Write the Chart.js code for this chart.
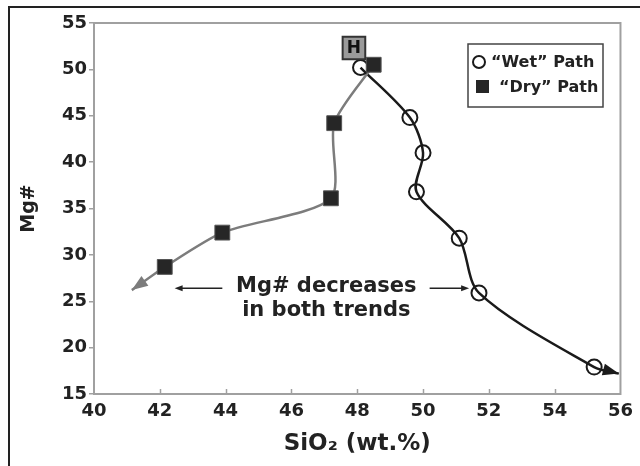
<!DOCTYPE html>
<html>
<head>
<meta charset="utf-8">
<script src="https://cdn.jsdelivr.net/npm/chart.js@4.4.1/dist/chart.umd.min.js"></script>
<style>
html, body { margin: 0; padding: 0; background: #fff; }
canvas { display: block; }
</style>
</head>
<body>
<canvas id="c" width="640" height="466"></canvas>
<script>
// "Wet" path - open circles
const wetSiO2 = [48.1, 49.6, 50.0, 49.8, 51.1, 51.7, 55.2];
const wetMg = [50.2, 44.8, 41.0, 36.8, 31.8, 25.9, 17.9];
const wetEnd = [55.95, 17.2];

// "Dry" path - filled squares
const drySiO2 = [48.5, 47.3, 47.2, 43.9, 42.15];
const dryMg = [50.5, 44.2, 36.1, 32.4, 28.7];
const dryEnd = [41.15, 26.2];

// starting composition H
const hPoint = [47.9, 52.3];

// axis ticks
const xTicks = [40, 42, 44, 46, 48, 50, 52, 54, 56];
const yTicks = [15, 20, 25, 30, 35, 40, 45, 50, 55];

const FONT = "'DejaVu Sans', 'Liberation Sans', Arial, sans-serif";

const toXY = (xs, ys) => xs.map((x, i) => ({ x: x, y: ys[i] }));
const wetLine = toXY(wetSiO2, wetMg).concat([{ x: wetEnd[0], y: wetEnd[1] }]);
const dryLine = toXY(drySiO2, dryMg).concat([{ x: dryEnd[0], y: dryEnd[1] }]);

function arrowHead(ctx, x, y, ang, len, wid, color) {
	ctx.save();
	ctx.translate(x, y);
	ctx.rotate(ang);
	ctx.beginPath();
	ctx.moveTo(0, 0);
	ctx.lineTo(-len, wid / 2);
	ctx.lineTo(-len, -wid / 2);
	ctx.closePath();
	ctx.fillStyle = color;
	ctx.fill();
	ctx.restore();
}

// frame, plot box, inner x ticks
const framePlugin = {
	id: 'frame',
	beforeDatasetsDraw(chart) {
		const ctx = chart.ctx;
		const a = chart.chartArea;
		ctx.save();
		ctx.strokeStyle = '#a0a0a0';
		ctx.lineWidth = 2;
		ctx.strokeRect(a.left, a.top, a.right - a.left, a.bottom - a.top);
		const xs = chart.scales.x;
		ctx.lineWidth = 1.5;
		xTicks.slice(1, -1).forEach(v => {
			const px = Math.round(xs.getPixelForValue(v)) + 0.5;
			ctx.beginPath();
			ctx.moveTo(px, a.bottom);
			ctx.lineTo(px, a.bottom - 5);
			ctx.stroke();
		});
		ctx.restore();
	},
	afterDraw(chart) {
		const ctx = chart.ctx;
		ctx.save();
		ctx.strokeStyle = '#222';
		ctx.lineWidth = 2;
		ctx.beginPath();
		ctx.moveTo(640, 7);
		ctx.lineTo(9, 7);
		ctx.lineTo(9, 466);
		ctx.stroke();
		ctx.restore();
	}
};

// arrowheads, H label, annotation, legend
const extrasPlugin = {
	id: 'extras',
	afterDatasetsDraw(chart) {
		const ctx = chart.ctx;
		const xs = chart.scales.x, ys = chart.scales.y;

		[[0, '#1a1a1a'], [1, '#7c7c7c']].forEach(([idx, color]) => {
			const pts = chart.getDatasetMeta(idx).data;
			const p = pts[pts.length - 1];
			const q = pts[pts.length - 2];
			const bx = p.cp1x !== undefined ? p.cp1x : q.x;
			const by = p.cp1y !== undefined ? p.cp1y : q.y;
			arrowHead(ctx, p.x, p.y, Math.atan2(p.y - by, p.x - bx), 16, 12, color);
		});

		// H label
		const h = chart.getDatasetMeta(4).data[0];
		ctx.save();
		ctx.fillStyle = '#111';
		ctx.font = 'bold 17px ' + FONT;
		ctx.textAlign = 'center';
		ctx.textBaseline = 'middle';
		ctx.fillText('H', h.x, h.y + 1);

		// annotation
		ctx.fillStyle = '#222';
		ctx.font = 'bold 21px ' + FONT;
		const tx = xs.getPixelForValue(47.06);
		ctx.fillText('Mg# decreases', tx, ys.getPixelForValue(26.6));
		ctx.fillText('in both trends', tx, ys.getPixelForValue(24.0));
		const ay = ys.getPixelForValue(26.4);
		ctx.strokeStyle = '#222';
		ctx.lineWidth = 1.5;
		[[43.9, 42.45], [50.2, 51.4]].forEach(([from, to]) => {
			const x0 = xs.getPixelForValue(from), x1 = xs.getPixelForValue(to);
			const dir = Math.sign(x1 - x0);
			ctx.beginPath();
			ctx.moveTo(x0, ay);
			ctx.lineTo(x1 - dir * 6, ay);
			ctx.stroke();
			arrowHead(ctx, x1, ay, dir > 0 ? 0 : Math.PI, 8, 6, '#222');
		});

		// legend
		ctx.strokeStyle = '#444';
		ctx.lineWidth = 1.5;
		ctx.fillStyle = '#fff';
		ctx.fillRect(468, 44, 135, 63);
		ctx.strokeRect(468, 44, 135, 63);
		ctx.beginPath();
		ctx.arc(479, 62, 6, 0, Math.PI * 2);
		ctx.strokeStyle = '#1a1a1a';
		ctx.lineWidth = 2;
		ctx.stroke();
		ctx.fillStyle = '#262626';
		ctx.fillRect(476, 80, 13, 13);
		ctx.fillStyle = '#222';
		ctx.font = 'bold 16px ' + FONT;
		ctx.textAlign = 'left';
		ctx.fillText('\u201CWet\u201D Path', 491, 63);
		ctx.fillText('\u201CDry\u201D Path', 499, 88);
		ctx.restore();
	}
};

const ctx = document.getElementById('c').getContext('2d');
const chart = new Chart(ctx, {
	type: 'scatter',
	data: {
		datasets: [
			{
				label: 'Wet line',
				data: wetLine,
				showLine: true,
				borderColor: '#1a1a1a',
				borderWidth: 2.5,
				pointRadius: 0,
				tension: 0.3,
				clip: false,
				order: 5
			},
			{
				label: 'Dry line',
				data: dryLine,
				showLine: true,
				borderColor: '#7c7c7c',
				borderWidth: 2.5,
				pointRadius: 0,
				tension: 0.25,
				clip: false,
				order: 4
			},
			{
				label: '"Wet" Path',
				data: toXY(wetSiO2, wetMg),
				pointStyle: 'circle',
				pointRadius: 7.5,
				backgroundColor: 'rgba(0,0,0,0)',
				borderColor: '#1a1a1a',
				borderWidth: 2,
				order: 3
			},
			{
				label: '"Dry" Path',
				data: toXY(drySiO2, dryMg),
				pointStyle: 'rect',
				pointRadius: 10.5,
				backgroundColor: '#262626',
				borderColor: '#555',
				borderWidth: 1,
				order: 2
			},
			{
				label: 'H',
				data: [{ x: hPoint[0], y: hPoint[1] }],
				pointStyle: 'rect',
				pointRadius: 16,
				backgroundColor: '#9a9a9a',
				borderColor: '#333',
				borderWidth: 2,
				clip: false,
				order: 1
			}
		]
	},
	options: {
		responsive: false,
		animation: false,
		devicePixelRatio: 1,
		layout: { padding: { top: 23, right: 17, left: 0, bottom: 0 } },
		plugins: {
			legend: { display: false },
			tooltip: { enabled: false }
		},
		scales: {
			x: {
				type: 'linear',
				min: 40,
				max: 56,
				afterBuildTicks: s => { s.ticks = xTicks.map(v => ({ value: v })); },
				afterFit: s => { s.height = 72; },
				grid: { drawOnChartArea: false, drawTicks: false },
				border: { color: '#a0a0a0', width: 2 },
				ticks: {
					padding: 7,
					color: '#222',
					font: { family: FONT, size: 18, weight: 'bold' }
				},
				title: {
					display: true,
					text: 'SiO\u2082 (wt.%)',
					color: '#222',
					font: { family: FONT, size: 23, weight: 'bold' },
					padding: { top: 0, bottom: 8 }
				}
			},
			y: {
				type: 'linear',
				min: 15,
				max: 55,
				afterBuildTicks: s => { s.ticks = yTicks.map(v => ({ value: v })); },
				afterFit: s => { s.width = 94; },
				grid: { drawOnChartArea: false, tickLength: 5, color: '#a0a0a0', lineWidth: 1.5 },
				border: { color: '#a0a0a0', width: 2 },
				ticks: {
					padding: 2,
					color: '#222',
					font: { family: FONT, size: 18, weight: 'bold' }
				},
				title: {
					display: true,
					text: 'Mg#',
					color: '#222',
					font: { family: FONT, size: 19, weight: 'bold' },
					padding: { top: 18, bottom: 0 }
				}
			}
		}
	},
	plugins: [framePlugin, extrasPlugin]
});
</script>
</body>
</html>
